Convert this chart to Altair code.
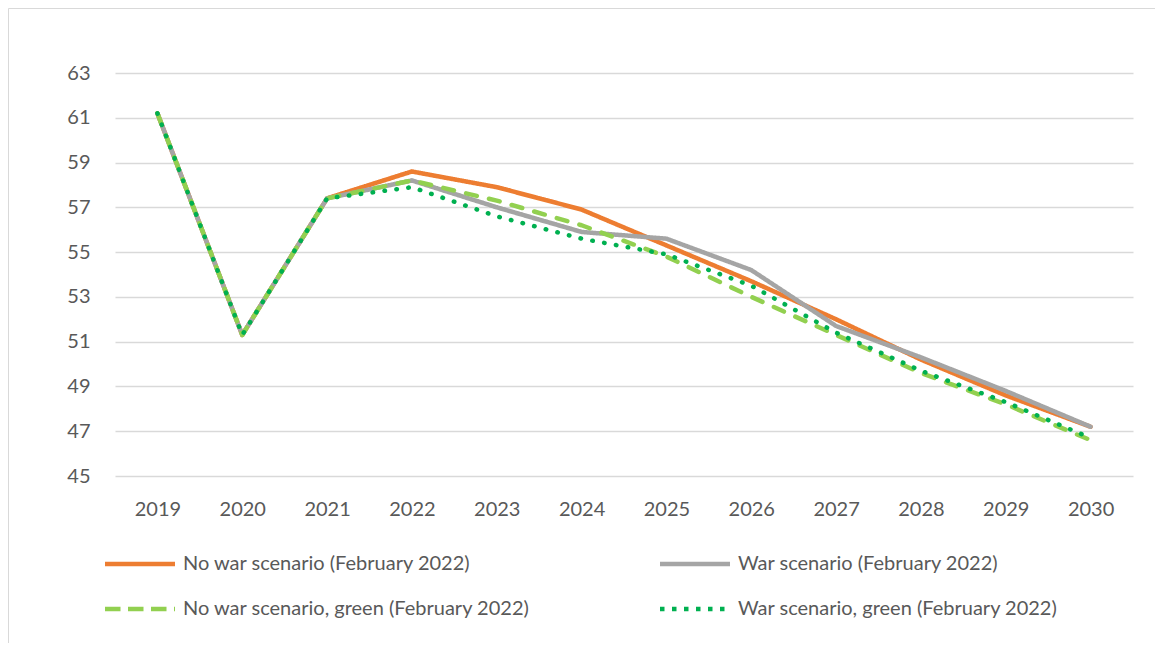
import altair as alt
import pandas as pd

years = ["2019", "2020", "2021", "2022", "2023", "2024", "2025", "2026", "2027", "2028", "2029", "2030"]
series_names = [
    "No war scenario (February 2022)",
    "War scenario (February 2022)",
    "No war scenario, green (February 2022)",
    "War scenario, green (February 2022)",
]
no_war = [61.2, 51.3, 57.4, 58.6, 57.9, 56.9, 55.3, 53.7, 52.0, 50.2, 48.6, 47.2]
war = [61.2, 51.3, 57.4, 58.2, 57.0, 55.9, 55.6, 54.2, 51.7, 50.3, 48.8, 47.2]
no_war_green = [61.2, 51.3, 57.4, 58.2, 57.3, 56.2, 54.8, 53.0, 51.3, 49.6, 48.2, 46.6]
war_green = [61.2, 51.3, 57.4, 57.9, 56.6, 55.6, 54.9, 53.5, 51.4, 49.7, 48.3, 46.7]
y_ticks = [45, 47, 49, 51, 53, 55, 57, 59, 61, 63]

colors = ["#ED7D31", "#A5A5A5", "#92D050", "#00B050"]
legend_dashes = [[1, 0], [1, 0], [15.5, 7.5], [4.5, 7.5]]
dash_line = [11, 12.5]
dot_line = [0.5, 11.5]

rows = []
for k, (name, vals) in enumerate(zip(series_names, [no_war, war, no_war_green, war_green])):
    for yr, v in zip(years, vals):
        rows.append({"year": yr, "value": v, "series": name, "k": k})
df = pd.DataFrame(rows)

FONT = "Lato"
TXT = "#595959"
GRID = "#D9D9D9"

border = alt.Chart(pd.DataFrame({"a": [0]})).mark_rect(
    fillOpacity=0, stroke=GRID, strokeWidth=1
).encode(
    x=alt.value(-106.5), x2=alt.value(1100), y=alt.value(-64.5), y2=alt.value(700)
)

x_enc = alt.X("year:O", sort=years,
              scale=alt.Scale(type="point", padding=0.5),
              axis=alt.Axis(title=None, labelAngle=0, domain=False, ticks=False, tickSize=0,
                            labelPadding=23, labelFont=FONT, labelFontSize=20, labelColor=TXT,
                            grid=False))
y_enc = alt.Y("value:Q",
              scale=alt.Scale(domain=[45, 63], nice=False, zero=False),
              axis=alt.Axis(title=None, values=y_ticks, domain=False, ticks=False, tickSize=0,
                            labelPadding=25, labelFont=FONT, labelFontSize=20, labelColor=TXT,
                            grid=True, gridColor=GRID, gridWidth=1.3))
color_enc = alt.Color("series:N", sort=series_names,
                      scale=alt.Scale(domain=series_names, range=colors),
                      legend=alt.Legend(
                          title=None, orient="none", legendX=-15, legendY=481,
                          direction="horizontal",
                          columns=2, columnPadding=120, rowPadding=25,
                          symbolType="M-1,0H13", symbolSize=100, symbolStrokeWidth=4.5,
                          labelOffset=63, labelFont=FONT, labelFontSize=20, labelColor=TXT,
                          labelLimit=600,
                      ))
dash_enc = alt.StrokeDash("series:N", sort=series_names,
                          scale=alt.Scale(domain=series_names, range=legend_dashes),
                          legend=None)

base = alt.Chart(df).encode(x=x_enc, y=y_enc, color=color_enc)
line_style = dict(strokeWidth=4.5, strokeCap="round", strokeJoin="round")

solid = base.transform_filter("datum.k < 2").encode(
    strokeDash=dash_enc, order=alt.Order("k:Q")).mark_line(**line_style)
dashed = base.transform_filter("datum.k == 2").encode(
    strokeDash=alt.value(dash_line)).mark_line(**line_style)
dotted = base.transform_filter("datum.k == 3").encode(
    strokeDash=alt.value(dot_line)).mark_line(**line_style)

chart = alt.layer(border, solid, dashed, dotted).properties(
    width=1018, height=403,
    padding={"left": 107, "top": 65, "right": 22, "bottom": 167},
    autosize=alt.AutoSizeParams(type="none"),
    background="white",
).configure_view(stroke=None)

chart.save("out.html", embed_options={"renderer": "svg", "actions": False})
